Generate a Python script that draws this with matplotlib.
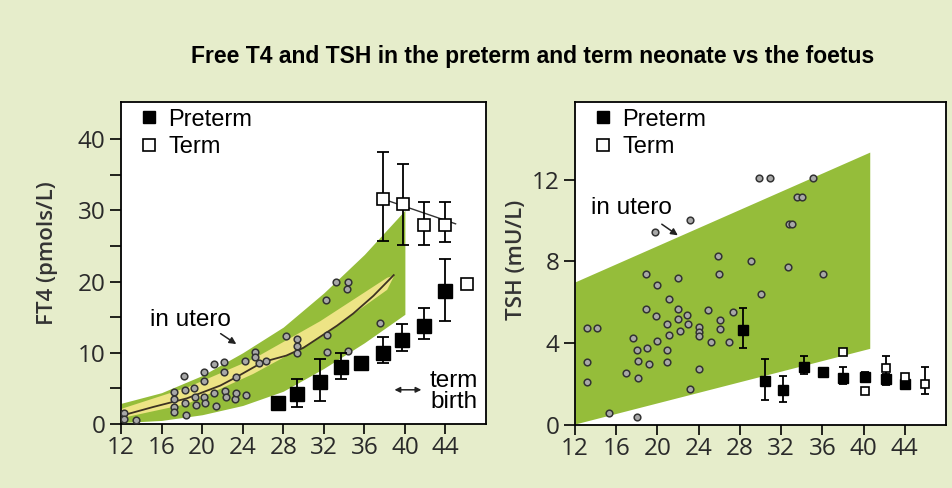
import numpy as np
import matplotlib
matplotlib.use('Agg')
import matplotlib.pyplot as plt
from matplotlib.lines import Line2D

# ---- FT4 panel data (weeks of gestation vs pmol/L) ----
ft4_band_wk = [12, 16, 20, 24, 28, 32, 36, 40]
ft4_band_lo = [0.2, 0.5, 1.3, 2.6, 4.6, 7.8, 11.4, 15.4]
ft4_band_hi = [2.9, 4.4, 6.8, 10.0, 13.6, 18.4, 23.8, 30.0]

ft4_yel_wk = [12, 18.5, 25.0, 31.6, 38.2, 38.9]
ft4_yel_lo = [0.9, 2.9, 7.1, 12.2, 18.9, 20.9]
ft4_yel_hi = [2.2, 5.2, 9.2, 14.5, 20.6, 20.9]

ft4_mean_wk = [12.4, 15.2, 18.5, 21.8, 23.4, 26.0, 28.3, 30.0, 31.6, 33.3, 34.9, 36.9, 38.9]
ft4_mean_val = [1.3, 2.4, 3.6, 5.4, 6.6, 8.7, 9.6, 10.7, 12.2, 13.8, 15.5, 18.0, 20.9]

ft4_sc_wk = [12.33, 12.33, 13.48, 17.27, 17.27, 17.27, 17.27, 18.26, 18.35, 18.35, 18.42,
             19.18, 19.28, 19.41, 20.16, 20.23, 20.23, 20.33, 21.15, 21.22, 21.38, 22.2,
             22.2, 22.27, 22.37, 23.22, 23.32, 23.36, 24.21, 24.34, 25.2, 25.26, 25.59,
             26.28, 28.29, 29.31, 29.31, 29.31, 32.18, 32.34, 32.34, 33.23, 34.35, 34.28,
             34.41, 37.54]
ft4_sc_val = [1.5, 0.7, 0.56, 4.45, 3.5, 2.34, 1.73, 6.74, 4.78, 2.9, 1.27,
              5.1, 3.84, 2.67, 7.35, 6.09, 3.75, 2.9, 8.38, 4.31, 2.58, 8.66,
              7.26, 4.64, 3.75, 3.5, 4.4, 6.65, 8.85, 4.08, 10.16, 9.41, 8.52,
              8.85, 12.31, 11.89, 10.96, 10.02, 17.42, 12.5, 10.16, 19.9, 20.0, 18.92,
              10.25, 14.23]

nan = np.nan
ft4_pre_wk = [27.5, 29.4, 31.6, 33.7, 35.7, 37.8, 39.7, 41.9, 44.0]
ft4_pre_val = [3.0, 4.2, 5.9, 8.0, 8.5, 9.9, 11.8, 13.8, 18.6]
ft4_pre_lo = [nan, 2.4, 3.2, 6.3, nan, 8.5, 10.3, 11.9, 14.5]
ft4_pre_hi = [nan, 6.3, 9.1, 10.0, nan, 12.2, 14.1, 16.3, 23.1]

ft4_term_wk = [37.8, 39.8, 41.9, 44.0, 46.1]
ft4_term_val = [31.6, 30.9, 27.9, 28.0, 19.6]
ft4_term_lo = [25.7, 25.1, 25.1, 25.5, nan]
ft4_term_hi = [38.2, 36.5, 31.2, 31.2, nan]
ft4_term_trend_wk = [37.8, 45.0]
ft4_term_trend_val = [31.6, 28.1]

# ---- TSH panel data (weeks vs mU/L) ----
tsh_band_wk = [12, 40.6]
tsh_band_lo = [0.05, 3.75]
tsh_band_hi = [7.0, 13.35]

tsh_sc_wk = [13.2, 14.1, 13.2, 13.2, 15.3, 18.05, 16.95, 17.66, 18.05, 18.12, 18.08,
             18.89, 18.89, 19.02, 19.15, 19.86, 19.93, 19.96, 19.8, 20.9, 20.93, 20.93,
             21.13, 21.16, 22.0, 22.0, 22.0, 22.19, 22.84, 23.0, 23.2, 23.17, 24.01,
             24.04, 24.04, 24.04, 24.88, 25.2, 25.92, 26.01, 26.05, 26.05, 26.95, 27.37,
             29.06, 30.09, 29.86, 30.96, 32.68, 32.74, 33.1, 33.52, 34.04, 35.14, 36.08]
tsh_sc_val = [4.73, 4.73, 3.07, 2.12, 0.57, 0.4, 2.56, 4.24, 3.65, 3.13, 2.3,
              7.38, 5.69, 3.75, 3.0, 5.32, 4.1, 6.87, 9.42, 4.93, 3.65, 3.07,
              6.14, 4.4, 7.18, 5.69, 5.17, 4.58, 5.4, 4.94, 10.02, 1.76, 4.8,
              4.54, 4.34, 2.74, 5.61, 4.08, 8.29, 7.39, 5.16, 4.7, 4.08, 5.53,
              8.03, 6.41, 12.08, 12.08, 7.74, 9.84, 9.84, 11.13, 11.13, 12.08, 7.38]

tsh_pre_wk = [28.3, 30.4, 32.2, 34.2, 36.1, 38.05, 40.15, 42.2, 44.0]
tsh_pre_val = [4.63, 2.15, 1.69, 2.82, 2.58, 2.28, 2.33, 2.25, 1.99]
tsh_pre_lo = [3.75, 1.2, 1.11, 2.48, nan, 2.02, 2.17, 1.96, nan]
tsh_pre_hi = [5.74, 3.23, 2.40, 3.38, nan, 2.84, 2.61, 2.51, nan]

tsh_term_wk = [38.05, 40.15, 42.2, 44.0, 46.0]
tsh_term_val = [3.57, 1.68, 2.77, 2.33, 2.0]
tsh_term_lo = [nan, nan, 2.12, nan, 1.52]
tsh_term_hi = [nan, nan, 3.38, nan, 2.84]

x_ticks = [12, 16, 20, 24, 28, 32, 36, 40, 44]

BG = '#E6EDCB'
GREEN = '#95BD3A'
YELLOW = '#EDE485'
TICK_FONT = 'Open Sans'
TEXT_FONT = 'Liberation Sans'


def errbars(ax, wk, val, lo, hi, capsize, zorder):
    wk, val, lo, hi = map(np.asarray, (wk, val, lo, hi))
    m = ~np.isnan(lo)
    ax.errorbar(wk[m], val[m], yerr=[val[m] - lo[m], hi[m] - val[m]], fmt='none',
                ecolor='black', elinewidth=1.3, capsize=capsize, capthick=1.3, zorder=zorder)


def style_axis(ax, ylim, yticks, minor=None):
    ax.set_xlim(12, 48)
    ax.set_ylim(*ylim)
    ax.set_xticks(x_ticks)
    ax.set_yticks(yticks)
    if minor is not None:
        ax.set_yticks(minor, minor=True)
    ax.tick_params(axis='y', which='both', direction='out', length=8, width=1.2, pad=3,
                   labelsize=17.5, labelcolor='#2a2a2a')
    ax.tick_params(axis='x', direction='out', length=7, width=1.2, pad=1.5,
                   labelsize=17.5, labelcolor='#2a2a2a')
    for lab in ax.get_xticklabels() + ax.get_yticklabels():
        lab.set_fontfamily(TICK_FONT)
    for sp in ax.spines.values():
        sp.set_linewidth(1.3)
        sp.set_color('black')
    ax.set_facecolor('white')


def add_legend(ax, msize):
    handles = [Line2D([], [], ls='none', marker='s', ms=msize, mfc='black', mec='black'),
               Line2D([], [], ls='none', marker='s', ms=msize, mfc='white', mec='black', mew=1.2)]
    ax.legend(handles, ['Preterm', 'Term'], loc='upper left', bbox_to_anchor=(-0.01, 1.045),
              frameon=False, handlelength=0.9, handletextpad=0.35, labelspacing=0.22,
              prop={'family': TEXT_FONT, 'size': 17})


fig = plt.figure(figsize=(9.53, 4.88), dpi=100, facecolor=BG)

# ---------- left panel: FT4 ----------
ax1 = fig.add_axes([121 / 953, 64 / 488, 365 / 953, 322 / 488])
ax1.fill_between(ft4_band_wk, ft4_band_lo, ft4_band_hi, color=GREEN, lw=0, zorder=1)
ax1.fill_between(ft4_yel_wk, ft4_yel_lo, ft4_yel_hi, color=YELLOW, lw=0, zorder=2)
ax1.plot(ft4_mean_wk, ft4_mean_val, color='#3d3222', lw=1.3, zorder=3)
ax1.plot(ft4_sc_wk, ft4_sc_val, ls='none', marker='o', ms=4.8, mfc='#a8a8a8',
         mec='#333333', mew=1.1, zorder=4)
ax1.plot(ft4_term_trend_wk, ft4_term_trend_val, color='#333333', lw=1.0, zorder=4)
errbars(ax1, ft4_pre_wk, ft4_pre_val, ft4_pre_lo, ft4_pre_hi, 4.5, 5)
errbars(ax1, ft4_term_wk, ft4_term_val, ft4_term_lo, ft4_term_hi, 4.5, 5)
ax1.plot(ft4_pre_wk, ft4_pre_val, ls='none', marker='s', ms=9.5, mfc='black', mec='black', zorder=6)
ax1.plot(ft4_term_wk, ft4_term_val, ls='none', marker='s', ms=8.5, mfc='white',
         mec='black', mew=1.2, zorder=6)
style_axis(ax1, (0, 45.2), [0, 10, 20, 30, 40], minor=[5, 15, 25, 35])
ax1.set_ylabel('FT4 (pmols/L)', fontsize=16, fontweight='semibold', family=TICK_FONT, color='#333333')
ax1.yaxis.set_label_coords(-0.173, 0.53)
add_legend(ax1, 8)
ax1.text(18.8, 14.6, 'in utero', fontsize=17.5, family=TEXT_FONT, ha='center', va='center', zorder=7)
ax1.annotate('', xy=(23.6, 11.0), xytext=(21.6, 12.9),
             arrowprops=dict(arrowstyle='-|>', color='#222222', lw=1.1, mutation_scale=10), zorder=7)
ax1.text(47.2, 4.6, 'term\nbirth', fontsize=17.5, family=TEXT_FONT, ha='right', va='center',
         linespacing=0.95, zorder=7)
ax1.annotate('', xy=(41.9, 4.8), xytext=(38.7, 4.8),
             arrowprops=dict(arrowstyle='<|-|>', color='#222222', lw=1.1, mutation_scale=8), zorder=7)

# ---------- right panel: TSH ----------
ax2 = fig.add_axes([575 / 953, 63 / 488, 371 / 953, 323 / 488])
ax2.fill_between(tsh_band_wk, tsh_band_lo, tsh_band_hi, color=GREEN, lw=0, zorder=1)
ax2.plot(tsh_sc_wk, tsh_sc_val, ls='none', marker='o', ms=4.8, mfc='#a8a8a8',
         mec='#333333', mew=1.1, zorder=4)
errbars(ax2, tsh_pre_wk, tsh_pre_val, tsh_pre_lo, tsh_pre_hi, 3.2, 5)
errbars(ax2, tsh_term_wk, tsh_term_val, tsh_term_lo, tsh_term_hi, 3.2, 5)
ax2.plot(tsh_pre_wk, tsh_pre_val, ls='none', marker='s', ms=6.5, mfc='black', mec='black', zorder=6)
ax2.plot(tsh_term_wk, tsh_term_val, ls='none', marker='s', ms=5.5, mfc='white',
         mec='black', mew=1.2, zorder=6)
style_axis(ax2, (0, 15.8), [0, 4, 8, 12])
ax2.set_ylabel('TSH (mU/L)', fontsize=16, fontweight='semibold', family=TICK_FONT, color='#333333')
ax2.yaxis.set_label_coords(-0.129, 0.51)
add_legend(ax2, 8)
ax2.text(17.5, 10.6, 'in utero', fontsize=17.5, family=TEXT_FONT, ha='center', va='center', zorder=7)
ax2.annotate('', xy=(22.2, 9.2), xytext=(20.2, 9.9),
             arrowprops=dict(arrowstyle='-|>', color='#222222', lw=1.1, mutation_scale=10), zorder=7)

fig.text(0.5588, 1 - 57 / 488, 'Free T4 and TSH in the preterm and term neonate vs the foetus',
         ha='center', va='center', fontsize=16.5, fontweight='bold', family=TEXT_FONT)

fig.savefig('out.png', dpi=100, facecolor=BG)
